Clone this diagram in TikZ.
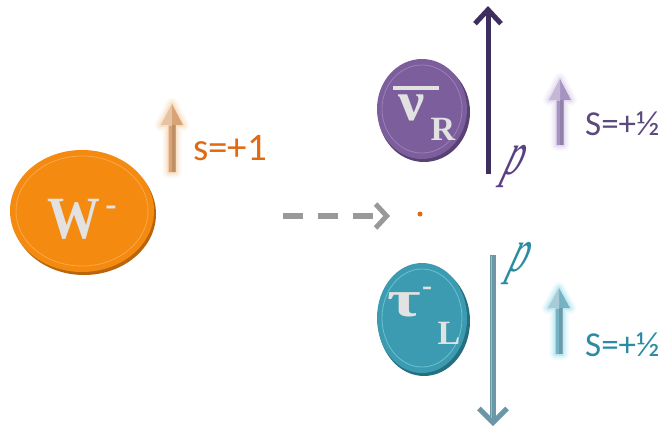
\documentclass[tikz,border=0pt]{standalone}
\usepackage{fontspec}
\setmainfont{Liberation Serif}
\newfontfamily\labelfont{Carlito}
\usetikzlibrary{arrows.meta,shapes.geometric}
\definecolor{worange}{HTML}{F58A10}
\definecolor{wshadow}{HTML}{B8650C}
\definecolor{wring}{HTML}{F9A84A}
\definecolor{npurple}{HTML}{7B5E9B}
\definecolor{nshadow}{HTML}{574272}
\definecolor{nring}{HTML}{9A80B8}
\definecolor{tteal}{HTML}{3C9BB0}
\definecolor{tshadow}{HTML}{256F80}
\definecolor{tring}{HTML}{6CC0D2}
\definecolor{txtgray}{HTML}{E2E2E2}
\definecolor{orangetxt}{HTML}{E06A12}
\definecolor{purpletxt}{HTML}{5C4A7C}
\definecolor{ptxt}{HTML}{5A3F85}
\definecolor{tealtxt}{HTML}{2B8BA3}
\definecolor{bigpurple}{HTML}{3E2E5E}
\definecolor{bigteal}{HTML}{6A98A6}
\definecolor{dashgray}{HTML}{999999}
\definecolor{spinor}{HTML}{D9A373}
\definecolor{glowor}{HTML}{F3CFA5}
\definecolor{spinpu}{HTML}{A693C2}
\definecolor{glowpu}{HTML}{D6CAE8}
\definecolor{spinte}{HTML}{78B2C2}
\definecolor{glowte}{HTML}{9BDDEE}
\newcommand\spinarr[5]{%
  % #1 x, #2 tip y, #3 head base y, #4 bottom y, #5 colour suffix
  \foreach \w/\o in {12/0.14,8/0.22,4/0.4}{
    \draw[line width=\w pt, glow#5, opacity=\o, line join=round]
      (#1-3.5,#4) -- (#1-3.5,#3) -- (#1-11,#3) -- (#1,#2) -- (#1+11,#3) -- (#1+3.5,#3) -- (#1+3.5,#4) -- cycle;}
  \fill[spin#5] (#1-3.5,#4) -- (#1-3.5,#3) -- (#1-11,#3) -- (#1,#2) -- (#1+11,#3) -- (#1+3.5,#3) -- (#1+3.5,#4) -- cycle;
  \fill[white, opacity=0.35] (#1-11,#3) -- (#1,#2) -- (#1,#3+1) -- cycle;
  \fill[black, opacity=0.12] (#1,#4) rectangle (#1+3.5,#3);
}
\begin{document}
\begin{tikzpicture}[x=1pt,y=-1pt,
  particle/.style={ellipse, inner sep=0pt, minimum width=#1},
  ringline/.style={line width=0.8pt},
  spinlabel/.style={font=\labelfont\fontsize{35}{35}\selectfont, anchor=base west, inner sep=0pt},
  momlabel/.style={font=\itshape\fontsize{40}{40}\selectfont, anchor=base, inner sep=0pt, transform shape},
  bigtxt/.style={text=txtgray, inner sep=0pt, font=\bfseries}
]
\useasboundingbox (0,0) rectangle (665,432);

% ---------- W- particle ----------
\fill[wshadow] (84,214) ellipse [x radius=72, y radius=61];
\node[particle=144pt, minimum height=122pt, fill=worange] (W) at (82,211) {};
\draw[wring, ringline] (82,211) ellipse [x radius=66, y radius=55];
\node[bigtxt, font=\bfseries\fontsize{60}{60}\selectfont] (Wt) at (74,219) {\scalebox{0.88}[1]{W}};
\node[bigtxt, font=\bfseries\fontsize{34}{34}\selectfont] (Wm) at (111,211) {-};

% spin of W
\spinarr{172}{104}{125}{172}{or}
\node[spinlabel, text=orangetxt, font=\labelfont\fontsize{39}{39}\selectfont] (sW) at (193,160) {s=+1};

% ---------- dashed arrow and decay point ----------
\coordinate (dstart) at (283,216);
\node[circle, fill=orangetxt, inner sep=0pt, minimum size=5pt] (dot) at (420,214) {};
\coordinate (dend) at (390,216);
\draw[dashgray, line width=6pt, dash pattern=on 20pt off 15pt,
      -{Straight Barb[length=11pt, width=24pt, line width=5pt]}] (dstart) -- (dend);

% ---------- anti-neutrino ----------
\fill[nshadow] (424,112) ellipse [x radius=46, y radius=50];
\node[particle=90pt, minimum height=100pt, fill=npurple] (nu) at (422,109) {};
\draw[nring, ringline] (422,109) ellipse [x radius=40, y radius=44];
\node[bigtxt, font=\bfseries\fontsize{56}{56}\selectfont] (nut) at (412,108) {\scalebox{1.05}[1]{ν}};
\draw[txtgray, line width=4pt] (393,88) -- (439,88);
\node[bigtxt, font=\bfseries\fontsize{34}{34}\selectfont] (nuR) at (443,129) {R};

% big momentum arrow up
\coordinate (pubot) at (488,174);
\coordinate (putop) at (488,6);
\draw[bigpurple, line width=5pt,
      -{Straight Barb[length=14pt, width=26pt, line width=5pt]}] (pubot) -- (putop);
\begin{scope}[shift={(511,174)}, xslant=0.35]
  \node[momlabel, text=ptxt] (pu) at (0,0) {\scalebox{0.85}[1.55]{p}};
\end{scope}

\spinarr{560}{79}{100}{145}{pu}
\node[spinlabel, text=purpletxt] (sN) at (585,135) {S=+½};

% ---------- tau ----------
\fill[tshadow] (424,321) ellipse [x radius=46, y radius=55];
\node[particle=90pt, minimum height=110pt, fill=tteal] (tau) at (422,318) {};
\draw[tring, ringline] (422,318) ellipse [x radius=40, y radius=49];
\node[bigtxt, font=\bfseries\fontsize{52}{52}\selectfont] (taut) at (404,305) {\scalebox{1.4}[1]{τ}};
\node[bigtxt, font=\bfseries\fontsize{30}{30}\selectfont] (taum) at (427,291) {-};
\node[bigtxt, font=\bfseries\fontsize{34}{34}\selectfont] (tauL) at (449,333) {L};

% momentum arrow down
\coordinate (pdtop) at (493,255);
\coordinate (pdbot) at (493,426);
\draw[bigteal, line width=5.5pt,
      -{Straight Barb[length=14pt, width=28pt, line width=5pt]}] (pdtop) -- (pdbot);
\draw[white, opacity=0.35, line width=1.5pt] (491.5,256) -- (491.5,418);
\begin{scope}[shift={(516,271)}, xslant=0.35]
  \node[momlabel, text=tealtxt] (pd) at (0,0) {\scalebox{0.85}[1.55]{p}};
\end{scope}

\spinarr{559}{288}{308}{354}{te}
\node[spinlabel, text=tealtxt] (sT) at (585,356) {S=+½};
\end{tikzpicture}
\end{document}
